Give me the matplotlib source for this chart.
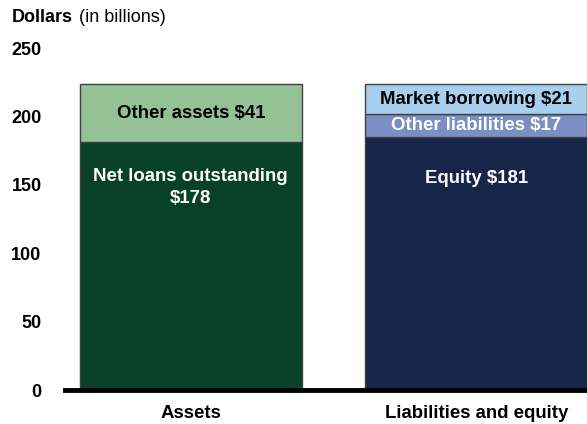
import matplotlib.pyplot as plt

plt.rcParams["font.family"] = ["Liberation Sans", "DejaVu Sans"]

categories = ["Assets", "Liabilities and equity"]

# stacked segments, bottom to top (billions of dollars)
asset_labels = ["Net loans outstanding\n$178", "Other assets $41"]
asset_values = [178, 41]
liab_labels = ["Equity $181", "Other liabilities $17", "Market borrowing $21"]
liab_values = [181, 17, 21]

y_ticks = [0, 50, 100, 150, 200, 250]

asset_colors = ["#08402a", "#94c296"]
liab_colors = ["#172548", "#7b8fc3", "#a8d0ee"]
asset_text = ["white", "black"]
liab_text = ["white", "white", "black"]

fig = plt.figure(figsize=(5.87, 4.24), dpi=100)
ax = fig.add_axes([0.111, 0.080, 0.889, 0.823])

width = 0.776
fs = 13.4


def stack(x, values, labels, colors, tcolors, drop):
    bottom = 0
    for i, (v, lab, c, tc) in enumerate(zip(values, labels, colors, tcolors)):
        ax.bar(x, v, width, bottom=bottom, color=c, edgecolor="#404040", linewidth=1)
        if i == 0:
            ax.text(x, bottom + v - drop, lab, ha="center", va="top", color=tc,
                    fontsize=fs, fontweight="bold", linespacing=1.4)
        else:
            ax.text(x, bottom + v / 2, lab, ha="center", va="center", color=tc,
                    fontsize=fs, fontweight="bold")
        bottom += v


stack(0, asset_values, asset_labels, asset_colors, asset_text, 19)
stack(1, liab_values, liab_labels, liab_colors, liab_text, 23)

ax.set_xlim(-0.44, 1.388)
ax.set_ylim(0, 250)
# the printed scale in the original runs slightly tighter than the bars
label_scale = 0.98
ax.set_yticks([t * label_scale for t in y_ticks])
ax.set_yticklabels([str(t) for t in y_ticks], fontsize=13, fontweight="bold")
ax.set_xticks([0, 1])
ax.set_xticklabels(categories, fontsize=fs, fontweight="bold")
ax.tick_params(axis="y", length=0, pad=17)
ax.tick_params(axis="x", length=0, pad=11)

for s in ["top", "right", "left"]:
    ax.spines[s].set_visible(False)
ax.spines["bottom"].set_linewidth(3.5)
ax.spines["bottom"].set_color("black")
ax.spines["bottom"].set_zorder(5)

fig.text(12 / 587, 1 - 18 / 424, "Dollars", fontsize=13, fontweight="bold",
         ha="left", va="center")
fig.text(79 / 587, 1 - 18 / 424, "(in billions)", fontsize=13,
         ha="left", va="center")

fig.savefig("out.png", dpi=100)
